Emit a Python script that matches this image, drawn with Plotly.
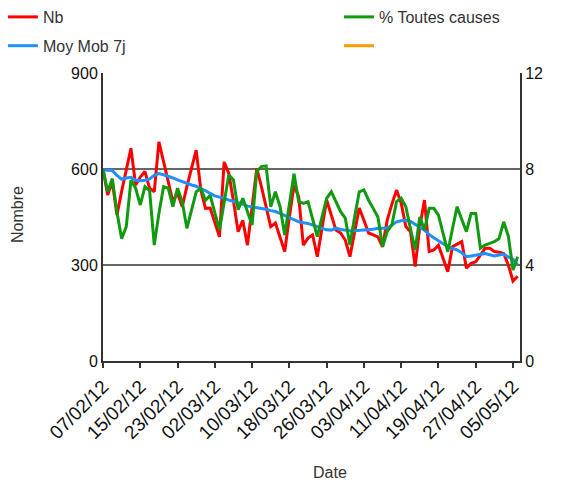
import pandas as pd
import plotly.graph_objects as go

dates = pd.date_range("2012-02-07", periods=90, freq="D")

nb = [600, 519, 560, 456, 530, 600, 665, 550, 575, 592,
      540, 529, 685, 623, 560, 498, 525, 482, 545, 600,
      659, 534, 477, 478, 430, 388, 622, 586, 500, 404,
      440, 362, 480, 602, 545, 477, 420, 431, 388, 342,
      450, 550, 513, 362, 384, 394, 326, 420, 503, 456,
      409, 400, 378, 326, 400, 478, 440, 400, 394, 388,
      357, 440, 490, 534, 493, 420, 404, 295, 420, 503,
      342, 347, 362, 321, 279, 357, 365, 373, 290, 305,
      310, 330, 352, 352, 342, 340, 336, 300, 250, 265]

moy_mob = [597, 597, 595, 580, 568, 572, 574, 565, 563, 565,
           569, 580, 586, 582, 578, 572, 566, 560, 555, 550,
           546, 540, 532, 524, 516, 512, 508, 503, 500, 495,
           490, 484, 482, 480, 477, 474, 470, 467, 461, 455,
           449, 443, 435, 432, 430, 425, 420, 415, 410, 409,
           415, 411, 408, 407, 407, 408, 409, 410, 412, 415,
           415, 415, 425, 435, 438, 440, 436, 428, 418, 409,
           395, 385, 375, 366, 357, 352, 347, 338, 326, 328,
           331, 333, 336, 332, 328, 331, 334, 325, 318, 300]

pct_toutes = [7.99, 7.05, 7.6, 6.2, 5.1, 5.6, 7.54, 7.2, 6.5, 7.26,
              7.1, 4.83, 6.15, 7.26, 7.2, 6.43, 7.2, 6.64, 5.53, 6.3,
              7.05, 7.2, 6.7, 6.9, 6.2, 5.46, 6.6, 7.75, 7.54, 6.3,
              6.78, 6.2, 5.67, 7.9, 8.1, 8.13, 6.43, 7.05, 6.43, 5.25,
              6.5, 7.8, 6.64, 6.57, 6.64, 5.9, 5.18, 6.0, 6.78, 7.05,
              6.6, 6.22, 5.95, 4.83, 6.0, 7.05, 7.13, 6.7, 6.36, 6.0,
              4.76, 5.39, 5.67, 6.64, 6.78, 6.43, 5.5, 4.63, 6.0, 5.46,
              6.36, 6.36, 6.08, 5.3, 4.55, 5.5, 6.43, 5.9, 5.39, 6.15,
              6.15, 4.7, 4.83, 4.9, 4.97, 5.1, 5.8, 5.2, 3.79, 4.34]

left_ticks = [0, 300, 600, 900]
right_ticks = [0, 4, 8, 12]

FONT = "Liberation Sans, Arial, sans-serif"
TXT = "#333333"
X_RANGE = [pd.Timestamp("2012-02-07"), pd.Timestamp("2012-05-06 12:00")]

fig = go.Figure()

fig.add_trace(go.Scatter(x=dates, y=nb, mode="lines", name="Nb", legendgroup="a",
                         line=dict(color="#ff0000", width=3), legend="legend"))
fig.add_trace(go.Scatter(x=dates, y=moy_mob, mode="lines", name="Moy Mob 7j", legendgroup="b",
                         line=dict(color="#1e90ff", width=3), legend="legend"))
fig.add_trace(go.Scatter(x=dates, y=pct_toutes, mode="lines", name="% Toutes causes",
                         legendgroup="c", line=dict(color="#109a10", width=3), yaxis="y2",
                         legend="legend2"))
fig.add_trace(go.Scatter(x=[None], y=[None], mode="lines", name=" ", legendgroup="d",
                         line=dict(color="#ff9900", width=3), legend="legend2"))

legend_style = dict(
    xref="paper", yref="paper",
    y=1.2535, yanchor="top", xanchor="left",
    itemwidth=30,
    font=dict(size=16, color=TXT),
    bgcolor="rgba(0,0,0,0)",
    traceorder="grouped",
    tracegroupgap=5,
)

fig.update_layout(
    width=553,
    height=479,
    margin=dict(l=95, r=41, t=65, b=126, autoexpand=False),
    plot_bgcolor="white",
    paper_bgcolor="white",
    font=dict(family=FONT, size=16, color=TXT),
    showlegend=True,
    legend=dict(x=-0.24, **legend_style),
    legend2=dict(x=0.566, **legend_style),
    xaxis=dict(
        range=X_RANGE,
        tick0=X_RANGE[0],
        dtick=8 * 86400000,
        tickformat="%d/%m/%y",
        tickangle=-45,
        ticks="outside",
        ticklen=5,
        tickwidth=2,
        tickcolor="#333",
        showline=True,
        linecolor="#333",
        linewidth=2,
        showgrid=False,
        zeroline=False,
        tickfont=dict(size=19, color="#111"),
    ),
    xaxis2=dict(
        range=X_RANGE,
        tick0=X_RANGE[0],
        dtick=8 * 86400000,
        overlaying="x",
        anchor="y",
        side="bottom",
        ticks="inside",
        ticklen=5,
        tickwidth=2,
        tickcolor="#333",
        showticklabels=False,
        showgrid=False,
        zeroline=False,
        showline=False,
    ),
    yaxis=dict(
        range=[0, 900],
        tickvals=left_ticks,
        showline=True,
        linecolor="#333",
        linewidth=2,
        showgrid=True,
        gridcolor="#666",
        gridwidth=2,
        zeroline=False,
        ticks="",
        tickfont=dict(size=16, color="#111"),
    ),
    yaxis2=dict(
        range=[0, 12],
        tickvals=right_ticks,
        overlaying="y",
        side="right",
        showline=True,
        linecolor="#333",
        linewidth=2,
        showgrid=False,
        zeroline=False,
        ticks="",
        tickfont=dict(size=16, color="#111"),
    ),
    annotations=[
        dict(text="Nombre", xref="paper", yref="paper", x=0, y=0.507,
             xshift=-85, textangle=-90, showarrow=False,
             xanchor="center", yanchor="middle", font=dict(size=16, color=TXT)),
        dict(text="Date", xref="paper", yref="paper", x=0.544, y=0,
             yshift=-111, showarrow=False,
             xanchor="center", yanchor="middle", font=dict(size=16, color=TXT)),
    ],
)

fig.write_html("out.html")
